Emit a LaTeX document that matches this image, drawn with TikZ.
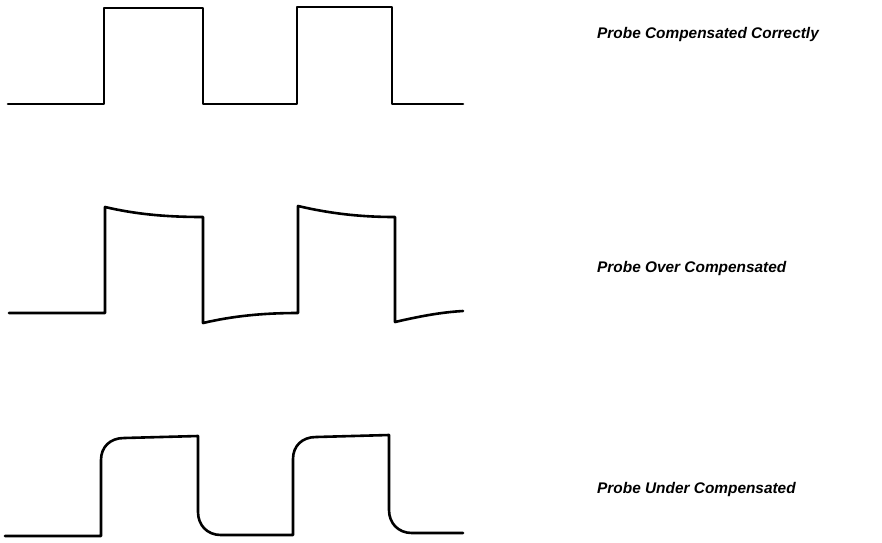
\documentclass[tikz,border=0pt]{standalone}
\usepackage{fontspec}
\setmainfont{Liberation Sans}
\begin{document}
\begin{tikzpicture}[x=1pt, y=-1pt, line join=round, line cap=round,
		wave/.style={line width=2.6pt, black},
		lbl/.style={anchor=west, inner sep=0pt, font=\fontsize{15.4}{17}\selectfont\bfseries\itshape}]
				\useasboundingbox (0,0) rectangle (882,542);
				% compensated correctly
				\draw[wave] (8,104)--(104,104)--(104,8)--(203,8)--(203,104)--(297,104)--(297,7)--(392,7)--(392,104)--(463,104);
				\node[lbl] (ok) at (597,35) {Probe Compensated Correctly};
				% over compensated
				\draw[wave] (9,313)--(105,313)--(105,207) .. controls (135,214) and (165,217) .. (203,217)
					--(203,323) .. controls (233,316) and (263,313) .. (298,313)
					--(298,206) .. controls (328,213) and (358,217) .. (395,217)
					--(395,322) .. controls (425,315) and (445,312) .. (463,311);
				\node[lbl] (over) at (597,269) {Probe Over Compensated};
				% under compensated
				\draw[wave] (5,536)--(101,536)--(101,460) .. controls (101,447) and (110,438) .. (124,438)
					--(198,436)--(198,512) .. controls (198,525) and (207,535) .. (221,535)
					--(293,535)--(293,459) .. controls (293,446) and (302,437) .. (316,437)
					--(389,435)--(389,510) .. controls (389,523) and (398,533) .. (412,533)--(463,533);
				\node[lbl] (under) at (597,490) {Probe Under Compensated};
			\end{tikzpicture}
\end{document}
